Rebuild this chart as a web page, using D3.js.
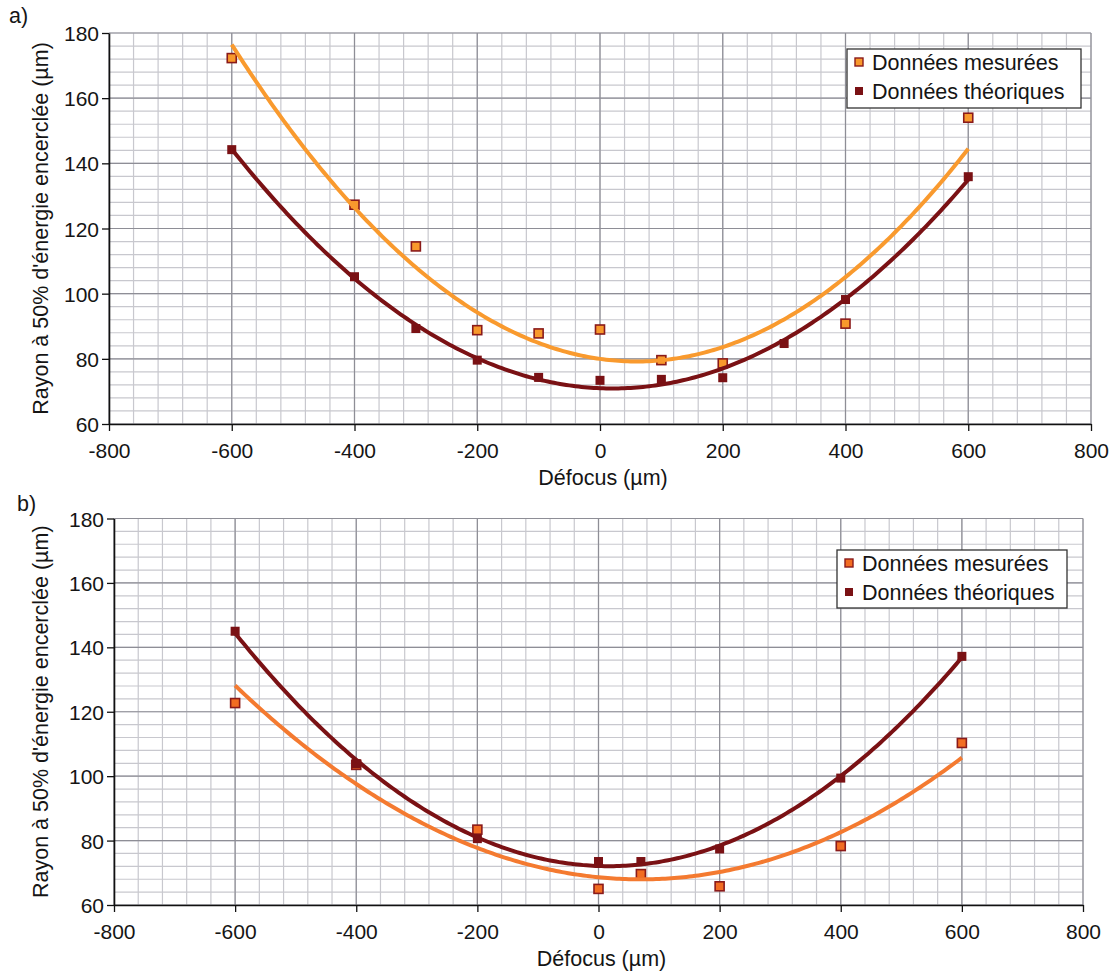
<!DOCTYPE html>
<html><head><meta charset="utf-8">
<script src="https://cdn.jsdelivr.net/npm/d3@7"></script>
<style>
body{margin:0;background:#fff}
text{font-family:"Liberation Sans",Arial,sans-serif;fill:#151515}
</style></head>
<body>
<svg id="c" width="1117" height="976"></svg>
<script>
// ---- data ----
const xTicks = [-800, -600, -400, -200, 0, 200, 400, 600, 800];
const yTicks = [60, 80, 100, 120, 140, 160, 180];
const seriesNames = ["Données mesurées", "Données théoriques"];
const xTitle = "Défocus (µm)";
const yTitle = "Rayon à 50% d'énergie encerclée (µm)";
const panelLabels = ["a)", "b)"];

const aMeasX = [-600, -400, -300, -200, -100, 0, 100, 200, 400, 600];
const aMeasY = [172.3, 127.3, 114.5, 88.8, 87.8, 89.0, 79.6, 78.6, 90.8, 154.0];
const aTheoX = [-600, -400, -300, -200, -100, 0, 100, 200, 300, 400, 600];
const aTheoY = [144.2, 105.2, 89.3, 79.6, 74.3, 73.4, 73.7, 74.2, 84.7, 98.2, 135.9];

const bMeasX = [-600, -400, -200, 0, 70, 200, 400, 600];
const bMeasY = [122.7, 103.5, 83.4, 65.0, 69.6, 65.8, 78.3, 110.3];
const bTheoX = [-600, -400, -200, 0, 70, 200, 400, 600];
const bTheoY = [145.0, 103.9, 80.6, 73.5, 73.5, 77.4, 99.4, 137.2];

// ---- layout ----
const panels = [
  {label: panelLabels[0], lx: 9, ly: 23, left: 109, right: 1091, top: 33, bottom: 424,
   meas: {x: aMeasX, y: aMeasY}, theo: {x: aTheoX, y: aTheoY},
   measFill: "#f8992c", measLine: "#f99a2e", theoColor: "#7a1114",
   legend: {x: 847, y: 49, w: 234, h: 59}},
  {label: panelLabels[1], lx: 17, ly: 511, left: 114, right: 1083, top: 518.5, bottom: 905,
   meas: {x: bMeasX, y: bMeasY}, theo: {x: bTheoX, y: bTheoY},
   measFill: "#f26d22", measLine: "#f47a30", theoColor: "#7a1114",
   legend: {x: 837, y: 550, w: 230, h: 58}}
];

function polyfit2(xs, ys) {
  // least-squares quadratic (as a spreadsheet polynomial trendline)
  let S = [0,0,0,0,0], T = [0,0,0];
  xs.forEach((x, i) => {
    let p = 1;
    for (let k = 0; k < 5; k++) { S[k] += p; if (k < 3) T[k] += p * ys[i]; p *= x; }
  });
  const M = [[S[0],S[1],S[2],T[0]],[S[1],S[2],S[3],T[1]],[S[2],S[3],S[4],T[2]]];
  for (let i = 0; i < 3; i++) {
    let piv = i;
    for (let r = i+1; r < 3; r++) if (Math.abs(M[r][i]) > Math.abs(M[piv][i])) piv = r;
    [M[i], M[piv]] = [M[piv], M[i]];
    for (let r = 0; r < 3; r++) if (r !== i) {
      const f = M[r][i] / M[i][i];
      for (let c = i; c < 4; c++) M[r][c] -= f * M[i][c];
    }
  }
  const c = [M[0][3]/M[0][0], M[1][3]/M[1][1], M[2][3]/M[2][2]];
  return x => c[0] + c[1]*x + c[2]*x*x;
}

const svg = d3.select("#c");
const minorCol = "#c8c8ce", majorCol = "#8e8e96";

panels.forEach(P => {
  const g = svg.append("g");
  const x = d3.scaleLinear().domain([xTicks[0], xTicks[xTicks.length-1]]).range([P.left, P.right]);
  const y = d3.scaleLinear().domain([yTicks[0], yTicks[yTicks.length-1]]).range([P.bottom, P.top]);

  // minor grid
  const xMinor = d3.range(xTicks[0], xTicks[xTicks.length-1] + 1, 40);
  const yMinor = d3.range(yTicks[0], yTicks[yTicks.length-1] + 0.1, 4);
  g.append("g").selectAll("line").data(xMinor).join("line")
    .attr("x1", d => x(d)).attr("x2", d => x(d)).attr("y1", P.top).attr("y2", P.bottom)
    .attr("stroke", minorCol).attr("stroke-width", 1.2);
  g.append("g").selectAll("line").data(yMinor).join("line")
    .attr("y1", d => y(d)).attr("y2", d => y(d)).attr("x1", P.left).attr("x2", P.right)
    .attr("stroke", minorCol).attr("stroke-width", 1.2);
  // major grid
  g.append("g").selectAll("line").data(xTicks).join("line")
    .attr("x1", d => x(d)).attr("x2", d => x(d)).attr("y1", P.top).attr("y2", P.bottom)
    .attr("stroke", majorCol).attr("stroke-width", 1.2);
  g.append("g").selectAll("line").data(yTicks).join("line")
    .attr("y1", d => y(d)).attr("y2", d => y(d)).attr("x1", P.left).attr("x2", P.right)
    .attr("stroke", majorCol).attr("stroke-width", 1.2);

  // axes
  const fmt = d => String(d);
  const xa = g.append("g").attr("transform", `translate(0,${P.bottom})`)
    .call(d3.axisBottom(x).tickValues(xTicks).tickSize(7).tickSizeOuter(0).tickPadding(12).tickFormat(fmt));
  const ya = g.append("g").attr("transform", `translate(${P.left},0)`)
    .call(d3.axisLeft(y).tickValues(yTicks).tickSize(7).tickSizeOuter(0).tickPadding(3).tickFormat(fmt));
  [xa, ya].forEach(a => {
    a.select(".domain").attr("stroke", "#111").attr("stroke-width", 1.6);
    a.selectAll(".tick line").attr("stroke", "#111").attr("stroke-width", 1.3);
    a.selectAll(".tick text").attr("font-size", 21).attr("fill", "#151515")
      .attr("font-family", '"Liberation Sans",Arial,sans-serif');
  });
  xa.selectAll(".tick text").attr("dy", "0.71em");
  ya.selectAll(".tick text").attr("dy", "0.36em");

  // titles
  g.append("text").attr("x", (P.left + P.right) / 2 + 3).attr("y", P.bottom + 61)
    .attr("text-anchor", "middle").attr("font-size", 21.5).text(xTitle);
  g.append("text").attr("transform", `translate(48,${(P.top + P.bottom) / 2}) rotate(-90)`)
    .attr("text-anchor", "middle").attr("font-size", 21.5).text(yTitle);
  g.append("text").attr("x", P.lx).attr("y", P.ly).attr("font-size", 21.5).text(P.label);

  // markers
  const mData = P.meas.x.map((v, i) => [v, P.meas.y[i]]);
  const tData = P.theo.x.map((v, i) => [v, P.theo.y[i]]);
  g.append("g").selectAll("rect").data(mData).join("rect")
    .attr("x", d => x(d[0]) - 4.5).attr("y", d => y(d[1]) - 4.5)
    .attr("width", 9).attr("height", 9)
    .attr("fill", P.measFill).attr("stroke", "#8a1a1a").attr("stroke-width", 1.6);
  g.append("g").selectAll("rect").data(tData).join("rect")
    .attr("x", d => x(d[0]) - 4.5).attr("y", d => y(d[1]) - 4.5)
    .attr("width", 9).attr("height", 9)
    .attr("fill", P.theoColor);

  // trend lines
  const line = d3.line().x(d => x(d[0])).y(d => y(d[1]));
  const xs = d3.range(-600, 600.1, 5);
  [[P.meas, P.measLine], [P.theo, P.theoColor]].forEach(([s, col]) => {
    const f = polyfit2(s.x, s.y);
    g.append("path").datum(xs.map(v => [v, f(v)])).attr("d", line)
      .attr("fill", "none").attr("stroke", col).attr("stroke-width", 4);
  });

  // legend
  const L = P.legend;
  const lg = g.append("g");
  lg.append("rect").attr("x", L.x).attr("y", L.y).attr("width", L.w).attr("height", L.h)
    .attr("fill", "#fff").attr("stroke", "#333").attr("stroke-width", 1.3);
  const rows = [
    {name: seriesNames[0], fill: P.measFill, stroke: "#8a1a1a"},
    {name: seriesNames[1], fill: P.theoColor, stroke: "none"}
  ];
  rows.forEach((r, i) => {
    const cy = L.y + 13 + i * 29;
    lg.append("rect").attr("x", L.x + 8).attr("y", cy - 4).attr("width", 8).attr("height", 8)
      .attr("fill", r.fill).attr("stroke", r.stroke).attr("stroke-width", 1.4);
    lg.append("text").attr("x", L.x + 25).attr("y", cy + 8).attr("font-size", 21.5).text(r.name);
  });
});
</script>
</body></html>
